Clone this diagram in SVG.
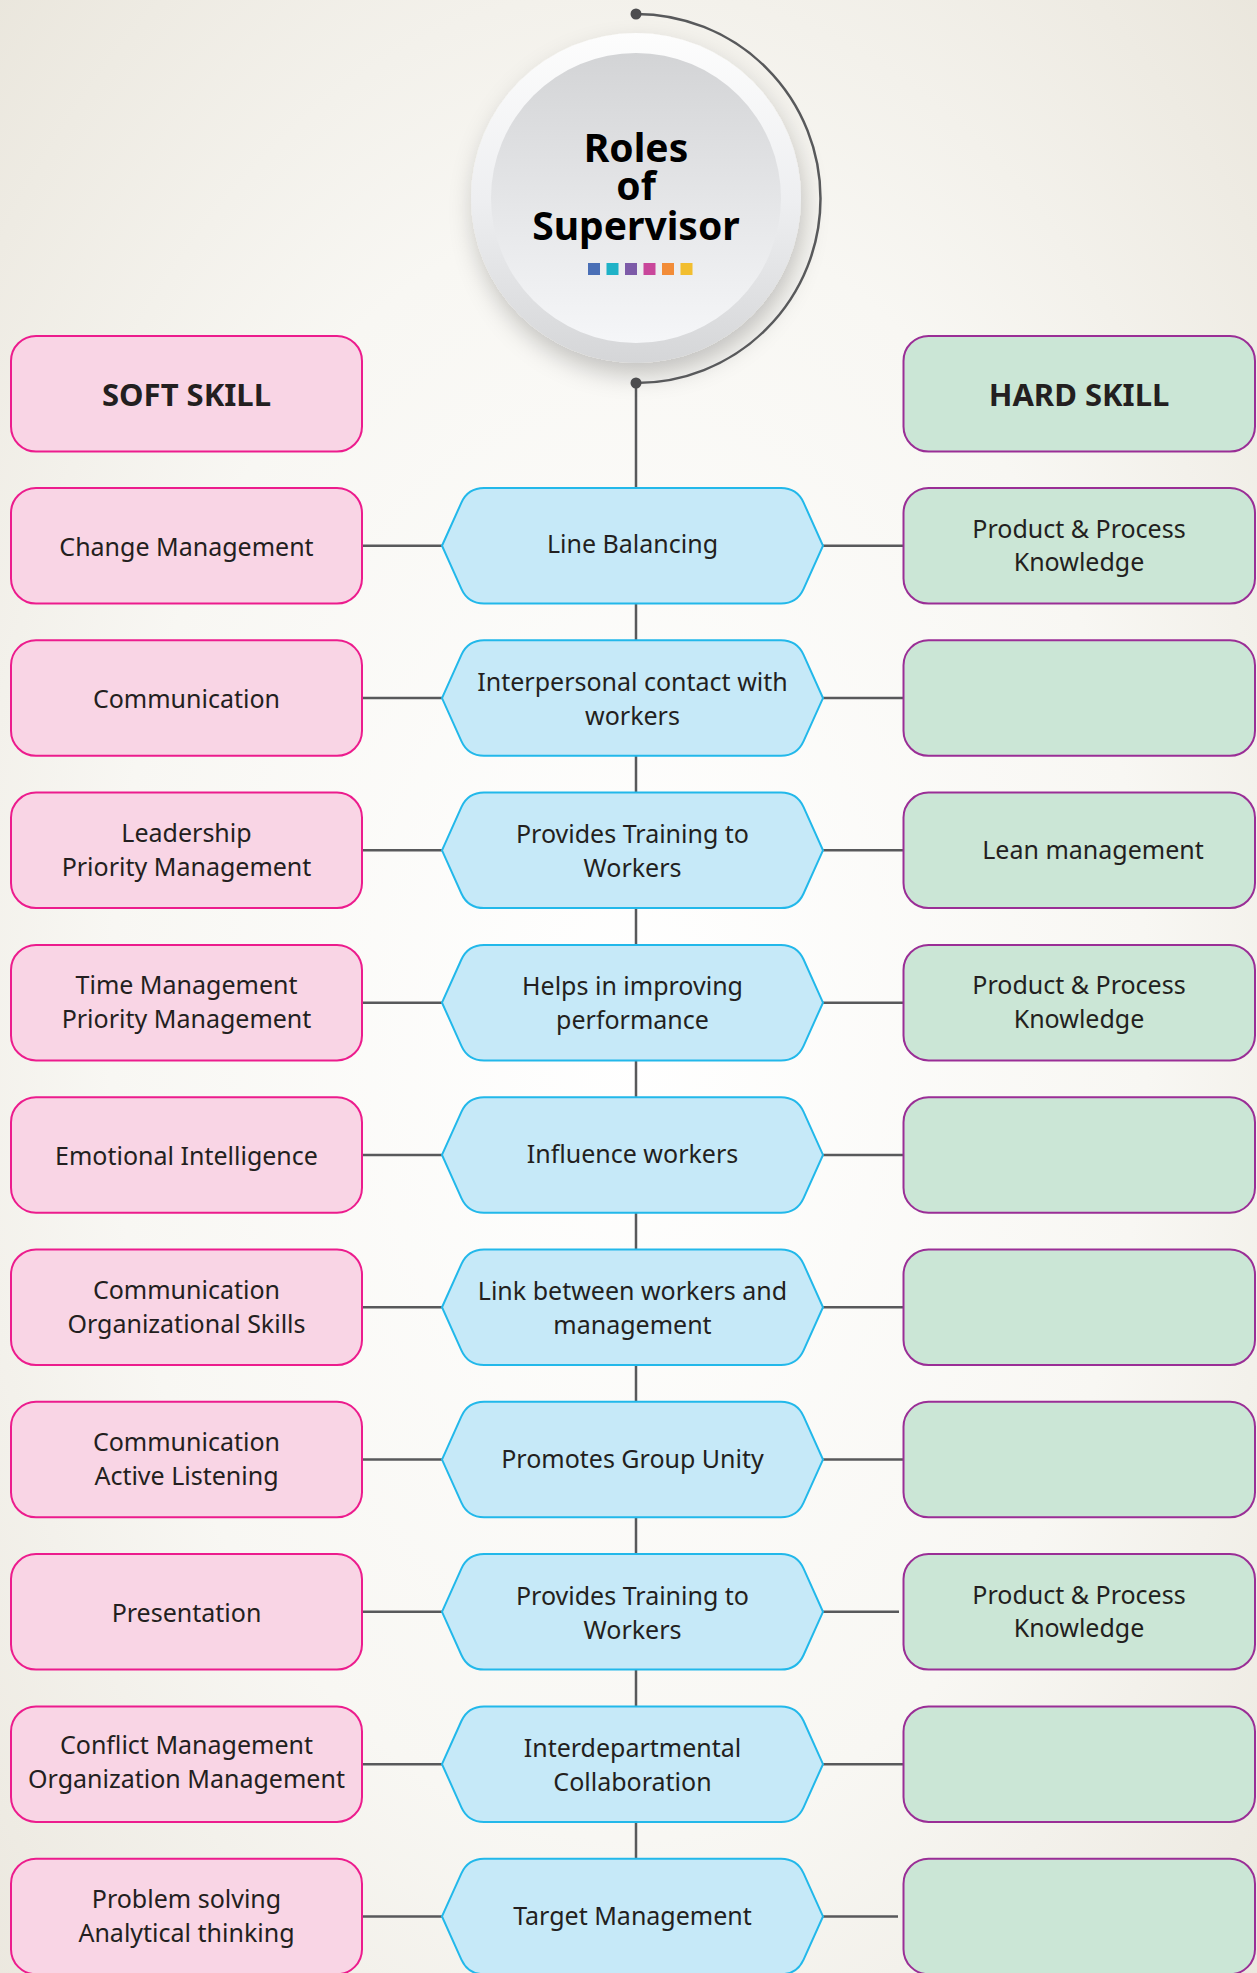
<svg xmlns="http://www.w3.org/2000/svg" width="1257" height="1973" viewBox="0 0 1257 1973">
<defs>
<radialGradient id="bg" cx="50%" cy="52%" r="75%">
<stop offset="0" stop-color="#ffffff"/>
<stop offset="0.55" stop-color="#f8f7f3"/>
<stop offset="1" stop-color="#e9e5db"/>
</radialGradient>
<linearGradient id="ring" x1="0" y1="0" x2="0" y2="1">
<stop offset="0" stop-color="#fdfdfd"/>
<stop offset="0.5" stop-color="#eeeff1"/>
<stop offset="1" stop-color="#d5d6d8"/>
</linearGradient>
<linearGradient id="disc" x1="0" y1="0" x2="0" y2="1">
<stop offset="0" stop-color="#d3d4d6"/>
<stop offset="0.55" stop-color="#e6e7e9"/>
<stop offset="1" stop-color="#f5f6f8"/>
</linearGradient>
<filter id="shadow" x="-30%" y="-30%" width="160%" height="170%">
<feDropShadow dx="3" dy="12" stdDeviation="12" flood-color="#000" flood-opacity="0.22"/>
</filter>
<path id="hexshape" d="M442 57.75 L461.4 14.6 Q468 0 484 0 L781 0 Q797 0 803.6 14.6 L823 57.75 L803.6 100.9 Q797 115.5 781 115.5 L484 115.5 Q468 115.5 461.4 100.9 Z"/>
</defs>
<style>
.soft{fill:#f9d5e5;stroke:#ec1c8d;stroke-width:2}
.hard{fill:#cbe6d6;stroke:#9a2e96;stroke-width:2}
.hex{fill:#c6e9f8;stroke:#22b8ea;stroke-width:2}
.t{font-family:"Noto Sans","Open Sans","DejaVu Sans",sans-serif;font-size:25px;fill:#231f20;text-anchor:middle}
.hd{font-family:"Noto Sans","Open Sans","DejaVu Sans",sans-serif;font-size:31px;font-weight:bold;fill:#231f20;text-anchor:middle}
.title{font-family:"Noto Sans","Open Sans","DejaVu Sans",sans-serif;font-size:39px;font-weight:bold;fill:#000;text-anchor:middle}
.ln{stroke:#58595b;stroke-width:2.5;fill:none}
.dot{fill:#4d4d4f}
</style>
<rect x="0" y="0" width="1257" height="1973" fill="url(#bg)"/>

<g id="connectors">
<line class="ln" x1="636" y1="383" x2="636" y2="1973"/>
<line class="ln" x1="362" y1="545.75" x2="442" y2="545.75"/><line class="ln" x1="823" y1="545.75" x2="903" y2="545.75"/>
<line class="ln" x1="362" y1="698.05" x2="442" y2="698.05"/><line class="ln" x1="823" y1="698.05" x2="903" y2="698.05"/>
<line class="ln" x1="362" y1="850.35" x2="442" y2="850.35"/><line class="ln" x1="823" y1="850.35" x2="903" y2="850.35"/>
<line class="ln" x1="362" y1="1002.65" x2="442" y2="1002.65"/><line class="ln" x1="823" y1="1002.65" x2="903" y2="1002.65"/>
<line class="ln" x1="362" y1="1154.95" x2="442" y2="1154.95"/><line class="ln" x1="823" y1="1154.95" x2="903" y2="1154.95"/>
<line class="ln" x1="362" y1="1307.25" x2="442" y2="1307.25"/><line class="ln" x1="823" y1="1307.25" x2="903" y2="1307.25"/>
<line class="ln" x1="362" y1="1459.55" x2="442" y2="1459.55"/><line class="ln" x1="823" y1="1459.55" x2="903" y2="1459.55"/>
<line class="ln" x1="362" y1="1611.85" x2="442" y2="1611.85"/><line class="ln" x1="823" y1="1611.85" x2="899" y2="1611.85"/>
<line class="ln" x1="362" y1="1764.15" x2="442" y2="1764.15"/><line class="ln" x1="823" y1="1764.15" x2="903" y2="1764.15"/>
<line class="ln" x1="362" y1="1916.45" x2="442" y2="1916.45"/><line class="ln" x1="823" y1="1916.45" x2="898" y2="1916.45"/>
</g>

<g id="title">
<circle cx="636" cy="198" r="165" fill="url(#ring)" filter="url(#shadow)"/>
<circle cx="636" cy="198" r="145" fill="url(#disc)"/>
<path class="ln" d="M636 14 A184.5 184.5 0 0 1 636 383"/>
<circle class="dot" cx="636" cy="14" r="5.5"/>
<circle class="dot" cx="636" cy="383" r="5.5"/>
<text class="title" x="636" y="162">Roles</text>
<text class="title" x="636" y="200">of</text>
<text class="title" x="636" y="240">Supervisor</text>
<rect x="588" y="263" width="12" height="12" fill="#4a6fb6"/>
<rect x="606.5" y="263" width="12" height="12" fill="#1fb2c7"/>
<rect x="625" y="263" width="12" height="12" fill="#7d5ba8"/>
<rect x="643.5" y="263" width="12" height="12" fill="#c9479b"/>
<rect x="662" y="263" width="12" height="12" fill="#f28c38"/>
<rect x="680.5" y="263" width="12" height="12" fill="#f2be2f"/>
</g>

<g id="soft-header"><rect class="soft" x="11" y="336" width="351" height="115.5" rx="25"/><text class="hd" x="186.5" y="406">SOFT SKILL</text></g>
<g id="hard-header"><rect class="hard" x="903.5" y="336" width="351.5" height="115.5" rx="25"/><text class="hd" x="1079" y="406">HARD SKILL</text></g>

<!-- Row 1 -->
<g id="soft-1" transform="translate(0,488)"><rect class="soft" x="11" y="0" width="351" height="115.5" rx="25"/><text class="t" x="186.5" y="67.5">Change Management</text></g>
<g id="role-1" transform="translate(0,488)"><use href="#hexshape" class="hex"/><text class="t" x="632.5" y="65">Line Balancing</text></g>
<g id="hard-1" transform="translate(0,488)"><rect class="hard" x="903.5" y="0" width="351.5" height="115.5" rx="25"/><text class="t" x="1079" y="49.5">Product &amp; Process</text><text class="t" x="1079" y="83">Knowledge</text></g>

<!-- Row 2 -->
<g id="soft-2" transform="translate(0,640.3)"><rect class="soft" x="11" y="0" width="351" height="115.5" rx="25"/><text class="t" x="186.5" y="67.5">Communication</text></g>
<g id="role-2" transform="translate(0,640.3)"><use href="#hexshape" class="hex"/><text class="t" x="632.5" y="50.5">Interpersonal contact with</text><text class="t" x="632.5" y="84.5">workers</text></g>
<g id="hard-2" transform="translate(0,640.3)"><rect class="hard" x="903.5" y="0" width="351.5" height="115.5" rx="25"/></g>

<!-- Row 3 -->
<g id="soft-3" transform="translate(0,792.6)"><rect class="soft" x="11" y="0" width="351" height="115.5" rx="25"/><text class="t" x="186.5" y="49.5">Leadership</text><text class="t" x="186.5" y="83">Priority Management</text></g>
<g id="role-3" transform="translate(0,792.6)"><use href="#hexshape" class="hex"/><text class="t" x="632.5" y="50.5">Provides Training to</text><text class="t" x="632.5" y="84.5">Workers</text></g>
<g id="hard-3" transform="translate(0,792.6)"><rect class="hard" x="903.5" y="0" width="351.5" height="115.5" rx="25"/><text class="t" x="1093" y="66.5">Lean management</text></g>

<!-- Row 4 -->
<g id="soft-4" transform="translate(0,944.9)"><rect class="soft" x="11" y="0" width="351" height="115.5" rx="25"/><text class="t" x="186.5" y="49.5">Time Management</text><text class="t" x="186.5" y="83">Priority Management</text></g>
<g id="role-4" transform="translate(0,944.9)"><use href="#hexshape" class="hex"/><text class="t" x="632.5" y="50.5">Helps in improving</text><text class="t" x="632.5" y="84.5">performance</text></g>
<g id="hard-4" transform="translate(0,944.9)"><rect class="hard" x="903.5" y="0" width="351.5" height="115.5" rx="25"/><text class="t" x="1079" y="49.5">Product &amp; Process</text><text class="t" x="1079" y="83">Knowledge</text></g>

<!-- Row 5 -->
<g id="soft-5" transform="translate(0,1097.2)"><rect class="soft" x="11" y="0" width="351" height="115.5" rx="25"/><text class="t" x="186.5" y="67.5">Emotional Intelligence</text></g>
<g id="role-5" transform="translate(0,1097.2)"><use href="#hexshape" class="hex"/><text class="t" x="632.5" y="66">Influence workers</text></g>
<g id="hard-5" transform="translate(0,1097.2)"><rect class="hard" x="903.5" y="0" width="351.5" height="115.5" rx="25"/></g>

<!-- Row 6 -->
<g id="soft-6" transform="translate(0,1249.5)"><rect class="soft" x="11" y="0" width="351" height="115.5" rx="25"/><text class="t" x="186.5" y="49.5">Communication</text><text class="t" x="186.5" y="83">Organizational Skills</text></g>
<g id="role-6" transform="translate(0,1249.5)"><use href="#hexshape" class="hex"/><text class="t" x="632.5" y="50.5">Link between workers and</text><text class="t" x="632.5" y="84.5">management</text></g>
<g id="hard-6" transform="translate(0,1249.5)"><rect class="hard" x="903.5" y="0" width="351.5" height="115.5" rx="25"/></g>

<!-- Row 7 -->
<g id="soft-7" transform="translate(0,1401.8)"><rect class="soft" x="11" y="0" width="351" height="115.5" rx="25"/><text class="t" x="186.5" y="49.5">Communication</text><text class="t" x="186.5" y="83">Active Listening</text></g>
<g id="role-7" transform="translate(0,1401.8)"><use href="#hexshape" class="hex"/><text class="t" x="632.5" y="66">Promotes Group Unity</text></g>
<g id="hard-7" transform="translate(0,1401.8)"><rect class="hard" x="903.5" y="0" width="351.5" height="115.5" rx="25"/></g>

<!-- Row 8 -->
<g id="soft-8" transform="translate(0,1554.1)"><rect class="soft" x="11" y="0" width="351" height="115.5" rx="25"/><text class="t" x="186.5" y="67.5">Presentation</text></g>
<g id="role-8" transform="translate(0,1554.1)"><use href="#hexshape" class="hex"/><text class="t" x="632.5" y="50.5">Provides Training to</text><text class="t" x="632.5" y="84.5">Workers</text></g>
<g id="hard-8" transform="translate(0,1554.1)"><rect class="hard" x="903.5" y="0" width="351.5" height="115.5" rx="25"/><text class="t" x="1079" y="49.5">Product &amp; Process</text><text class="t" x="1079" y="83">Knowledge</text></g>

<!-- Row 9 -->
<g id="soft-9" transform="translate(0,1706.4)"><rect class="soft" x="11" y="0" width="351" height="115.5" rx="25"/><text class="t" x="186.5" y="48">Conflict Management</text><text class="t" x="186.5" y="82">Organization Management</text></g>
<g id="role-9" transform="translate(0,1706.4)"><use href="#hexshape" class="hex"/><text class="t" x="632.5" y="51">Interdepartmental</text><text class="t" x="632.5" y="85">Collaboration</text></g>
<g id="hard-9" transform="translate(0,1706.4)"><rect class="hard" x="903.5" y="0" width="351.5" height="115.5" rx="25"/></g>

<!-- Row 10 -->
<g id="soft-10" transform="translate(0,1858.7)"><rect class="soft" x="11" y="0" width="351" height="115.5" rx="25"/><text class="t" x="186.5" y="49.5">Problem solving</text><text class="t" x="186.5" y="83">Analytical thinking</text></g>
<g id="role-10" transform="translate(0,1858.7)"><use href="#hexshape" class="hex"/><text class="t" x="632.5" y="66">Target Management</text></g>
<g id="hard-10" transform="translate(0,1858.7)"><rect class="hard" x="903.5" y="0" width="351.5" height="115.5" rx="25"/></g>
</svg>
